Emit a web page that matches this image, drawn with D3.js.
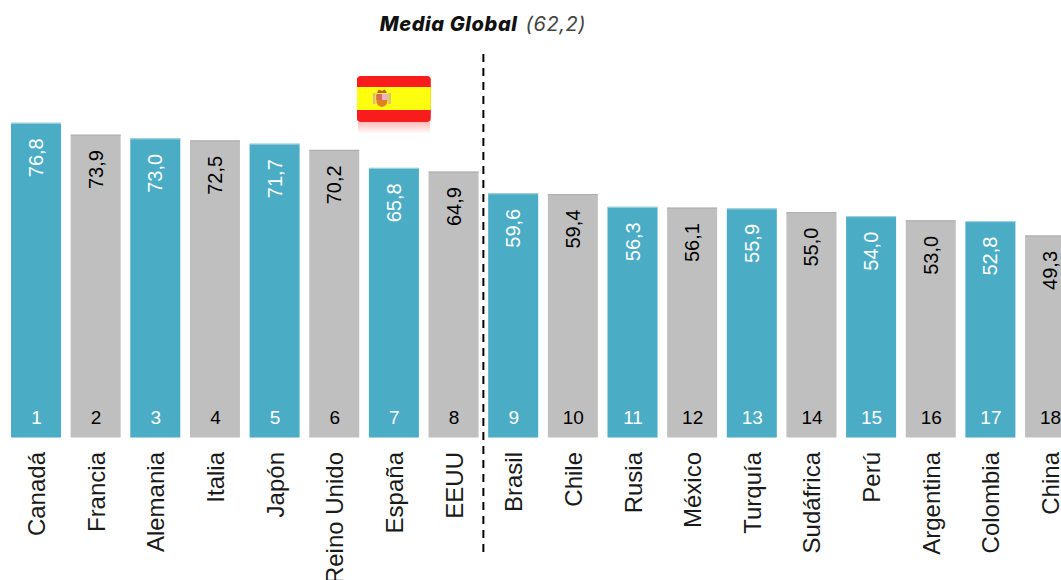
<!DOCTYPE html>
<html><head><meta charset="utf-8">
<script src="https://cdn.jsdelivr.net/npm/d3@7"></script>
<style>html,body{margin:0;padding:0;background:#fff;overflow:hidden}svg{display:block}</style>
</head><body><div id="c"></div>
<script>
const countries=["Canadá","Francia","Alemania","Italia","Japón","Reino Unido","España","EEUU","Brasil","Chile","Rusia","México","Turquía","Sudáfrica","Perú","Argentina","Colombia","China"];
const values=[76.8,73.9,73.0,72.5,71.7,70.2,65.8,64.9,59.6,59.4,56.3,56.1,55.9,55.0,54.0,53.0,52.8,49.3];
const highlighted=["Canadá","Alemania","Japón","España","Brasil","Rusia","Turquía","Perú","Colombia"];
const globalLabel="Media Global", globalValue="(62,2)";
const fmt=v=>v.toFixed(1).replace(".",",");
const W=1061,H=580,base=437.5,step=59.65,gap=9.65;
const svg=d3.select("#c").append("svg").attr("width",W).attr("height",H);
const x=d3.scaleBand().domain(countries).range([11,11+18*step-gap]).paddingInner(gap/step).paddingOuter(0);
const y=d3.scaleLinear().domain([0,76.8]).range([base,122.8]);
const BLUE="#4BACC6",GRAY="#BFBFBF";
const isH=c=>highlighted.includes(c);

const g=svg.selectAll("g.bar").data(countries.map((c,i)=>({c,i,v:values[i]}))).join("g").attr("class","bar");
g.append("rect").attr("x",d=>x(d.c)).attr("y",d=>y(d.v)).attr("width",x.bandwidth()).attr("height",d=>base-y(d.v))
 .attr("fill",d=>isH(d.c)?BLUE:GRAY);
g.append("line").attr("x1",d=>x(d.c)).attr("x2",d=>x(d.c)+x.bandwidth()).attr("y1",d=>y(d.v)+.5).attr("y2",d=>y(d.v)+.5)
 .attr("stroke",d=>isH(d.c)?"#a8d3df":"#adadad").attr("stroke-width",1);
const tf="Liberation Sans, Arial, sans-serif";
g.append("text").attr("transform",d=>`translate(${x(d.c)+x.bandwidth()/2+7},${y(d.v)+15.5}) rotate(-90)`)
 .attr("text-anchor","end").attr("font-family",tf).attr("font-size",20).text(d=>fmt(d.v))
 .attr("fill",d=>isH(d.c)?"#fff":"#000");
g.append("text").attr("x",d=>x(d.c)+x.bandwidth()/2+.5).attr("y",424).attr("text-anchor","middle")
 .attr("font-family",tf).attr("font-size",19).text(d=>d.i+1).attr("fill",d=>isH(d.c)?"#fff":"#000");
g.append("text").attr("transform",d=>`translate(${x(d.c)+x.bandwidth()/2+9},452) rotate(-90)`)
 .attr("text-anchor","end").attr("font-family",tf).attr("font-size",24).attr("fill","#1a1a1a").text(d=>d.c);

// divider after the 8th bar
const dx=(x("EEUU")+x.bandwidth()+x("Brasil"))/2;
svg.append("line").attr("x1",dx).attr("x2",dx).attr("y1",54).attr("y2",552).attr("stroke","#000").attr("stroke-width",2).attr("stroke-dasharray","8 6");

// title
const t=svg.append("text").attr("x",483).attr("y",31).attr("text-anchor","middle").attr("font-family","Inter, Lato, sans-serif").attr("font-style","italic").attr("font-size",20).attr("letter-spacing",.6);
t.append("tspan").attr("font-weight",800).attr("fill","#111").text(globalLabel);
t.append("tspan").attr("dx",8).attr("font-weight",400).attr("fill","#444").text(globalValue);

// flag above España
const fc=x("España")+x.bandwidth()/2, fw=74;
const defs=svg.append("defs");
const lg=defs.append("linearGradient").attr("id","refl").attr("x1",0).attr("x2",0).attr("y1",0).attr("y2",1);
lg.append("stop").attr("offset",0).attr("stop-color","#F91C1C").attr("stop-opacity",.3);
lg.append("stop").attr("offset",1).attr("stop-color","#F91C1C").attr("stop-opacity",0);
defs.append("clipPath").attr("id","fl").append("rect").attr("x",fc-fw/2).attr("y",76).attr("width",fw).attr("height",46).attr("rx",4);
svg.append("rect").attr("x",fc-fw/2+1).attr("y",122).attr("width",fw-2).attr("height",12).attr("fill","url(#refl)");
const f=svg.append("g").attr("clip-path","url(#fl)");
f.append("rect").attr("x",fc-fw/2).attr("y",76).attr("width",fw).attr("height",46).attr("fill","#F91C1C");
f.append("rect").attr("x",fc-fw/2).attr("y",87).attr("width",fw).attr("height",23).attr("fill","#FEFE0E");
const e=svg.append("g").attr("transform",`translate(${fc-12},99)`);
e.append("rect").attr("x",-9).attr("y",-6).attr("width",2.5).attr("height",11).attr("fill","#d8bd86");
e.append("rect").attr("x",6.5).attr("y",-6).attr("width",2.5).attr("height",11).attr("fill","#d8bd86");
e.append("path").attr("d","M-5.5,-5H5.5V2Q5.5,7 0,8Q-5.5,7 -5.5,2Z").attr("fill","#e0812a");
e.append("rect").attr("x",-5.5).attr("y",-5).attr("width",5.5).attr("height",6).attr("fill","#dd6b4f");
e.append("rect").attr("x",0).attr("y",-5).attr("width",5.5).attr("height",6).attr("fill","#e7b3c8");
e.append("path").attr("d","M-5,-6L-3,-9.5L0,-8L3,-9.5L5,-6Z").attr("fill","#c9572f");
</script></body></html>
